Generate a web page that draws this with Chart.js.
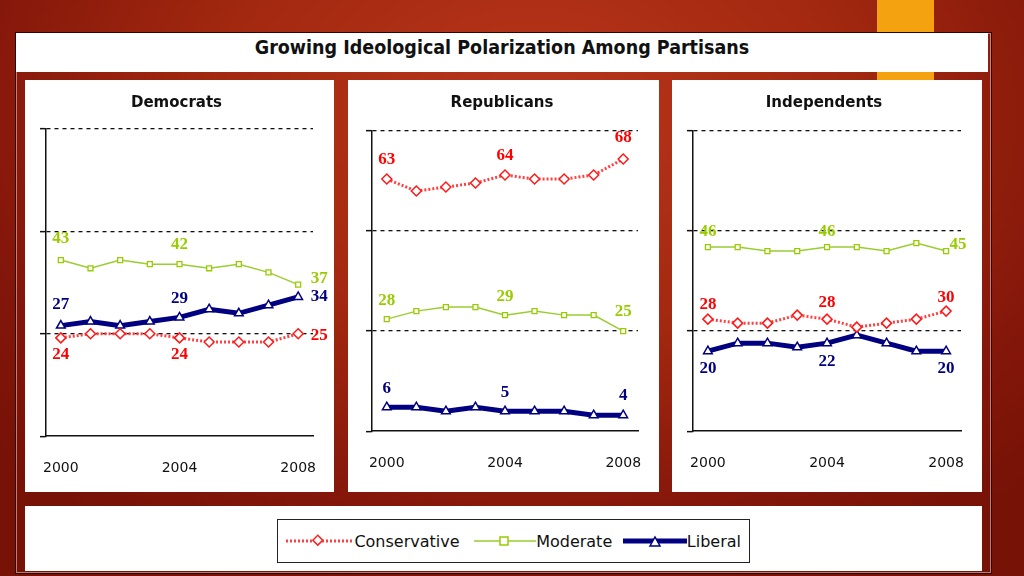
<!DOCTYPE html>
<html>
<head>
<meta charset="utf-8">
<script src="https://cdn.jsdelivr.net/npm/chart.js@4"></script>
<style>
  html, body { margin: 0; padding: 0; }
  body {
    width: 1024px; height: 576px; overflow: hidden; position: relative;
    background: radial-gradient(ellipse 70% 90% at 52% 20%, #b9361b 0%, #a2280f 45%, #83160a 80%, #761206 100%);
    font-family: "DejaVu Sans", sans-serif;
  }
  .orange { position: absolute; left: 877px; top: 0; width: 57px; height: 80px; background: #f4a20f; }
  .frame { position: absolute; left: 15px; top: 32px; width: 975px; height: 540px; border: 1px solid #2b0703; box-shadow: inset 0 0 0 1px rgba(255,210,200,0.55); }
  .titlebar {
    position: absolute; left: 16px; top: 33px; width: 972px; height: 39px; background: #fff;
    text-align: center; line-height: 29px; font-family: "DejaVu Sans Condensed", "DejaVu Sans", sans-serif;
    font-stretch: condensed; font-weight: bold; font-size: 19.5px; color: #111;
  }
  .panel { position: absolute; top: 80px; height: 412px; background: #fff; }
  .bottom { position: absolute; left: 25px; top: 506px; width: 957px; height: 65px; background: #fff; }
  .legend {
    position: absolute; left: 277px; top: 519px; width: 471px; height: 42px; border: 1.5px solid #222;
    display: flex; align-items: center; font-size: 16px; color: #111;
  }
  .legend span { margin-right: 8px; }
  .legend svg { display: block; }
</style>
</head>
<body>
<div class="orange"></div>
<div class="frame"></div>
<div class="titlebar">Growing Ideological Polarization Among Partisans</div>
<div class="panel" style="left:25px;width:309px"><canvas id="demChart"></canvas></div>
<div class="panel" style="left:348px;width:311px"><canvas id="repChart"></canvas></div>
<div class="panel" style="left:672px;width:310px"><canvas id="indChart"></canvas></div>
<div class="bottom"></div>
<div class="legend">
  <svg width="74" height="20" style="margin-left:6px"><line x1="2" y1="10" x2="70" y2="10" stroke="#ff4040" stroke-width="3" stroke-dasharray="2 2"/><rect x="31" y="5" width="7" height="7" transform="rotate(45 34.5 8.5) translate(0 1)" fill="#fff" stroke="#ff2020" stroke-width="1.5"/></svg>
  <span>Conservative</span>
  <svg width="70" height="20" style="margin-left:2px"><line x1="4" y1="10" x2="66" y2="10" stroke="#9acd32" stroke-width="1.5"/><rect x="30" y="6" width="8" height="8" fill="#fff" stroke="#99cc00" stroke-width="1.5"/></svg>
  <span>Moderate</span>
  <svg width="70" height="20"><line x1="3" y1="10" x2="67" y2="10" stroke="#000080" stroke-width="5"/><path d="M30 15 L35 6 L40 15 Z" fill="#fff" stroke="#000080" stroke-width="1.5"/></svg>
  <span>Liberal</span>
</div>
<script>
const years = ["2000", "2001", "2002", "2003", "2004", "2005", "2006", "2007", "2008"];
const shownYears = ["2000", "2004", "2008"];
const partyNames = ["Democrats", "Republicans", "Independents"];
const seriesNames = ["Conservative", "Moderate", "Liberal"];

const demConservative = [24, 25, 25, 25, 24, 23, 23, 23, 25];
const demModerate = [43, 41, 43, 42, 42, 41, 42, 40, 37];
const demLiberal = [27, 28, 27, 28, 29, 31, 30, 32, 34];

const repConservative = [63, 60, 61, 62, 64, 63, 63, 64, 68];
const repModerate = [28, 30, 31, 31, 29, 30, 29, 29, 25];
const repLiberal = [6, 6, 5, 6, 5, 5, 5, 4, 4];

const indConservative = [28, 27, 27, 29, 28, 26, 27, 28, 30];
const indModerate = [46, 46, 45, 45, 46, 46, 45, 47, 45];
const indLiberal = [20, 22, 22, 21, 22, 24, 22, 20, 20];

const labelledYears = ["2000", "2004", "2008"];

// value labels next to selected points
const pointLabels = {
    id: "pointLabels",
    afterDatasetsDraw(chart) {
        const ctx = chart.ctx;
        ctx.save();
        ctx.font = "bold 17px 'Liberation Serif', serif";
        ctx.textAlign = "center";
        ctx.textBaseline = "middle";
        chart.data.datasets.forEach((ds, di) => {
            const meta = chart.getDatasetMeta(di);
            ctx.fillStyle = ds.labelColor;
            ds.labelSpots.forEach((spot, k) => {
                const idx = years.indexOf(labelledYears[k]);
                const pt = meta.data[idx];
                ctx.fillText(String(ds.data[idx]), pt.x + spot[0], pt.y + spot[1]);
            });
        });
        ctx.restore();
    }
};

function makeDatasets(cons, mod, lib, spots) {
    return [
        {
            label: seriesNames[0], data: cons,
            borderColor: "#ff4040", borderWidth: 3, borderDash: [2, 2],
            pointStyle: "rectRot", pointRadius: 5, pointBackgroundColor: "#fff",
            pointBorderColor: "#ff1a1a", pointBorderWidth: 1.5,
            labelColor: "#ff0000", labelSpots: spots[0]
        },
        {
            label: seriesNames[1], data: mod,
            borderColor: "#9acd32", borderWidth: 1.5,
            pointStyle: "rect", pointRadius: 3.5, pointBackgroundColor: "#fff",
            pointBorderColor: "#99cc00", pointBorderWidth: 1.3,
            labelColor: "#99cc00", labelSpots: spots[1]
        },
        {
            label: seriesNames[2], data: lib,
            borderColor: "#000080", borderWidth: 5,
            pointStyle: "triangle", pointRadius: 5, pointBackgroundColor: "#fff",
            pointBorderColor: "#000080", pointBorderWidth: 1.5,
            labelColor: "#000080", labelSpots: spots[2]
        }
    ];
}

function createPanel(canvasId, title, datasets, pad, titleGap) {
    new Chart(document.getElementById(canvasId), {
        type: "line",
        data: { labels: years, datasets: datasets },
        plugins: [pointLabels],
        options: {
            responsive: true,
            maintainAspectRatio: false,
            animation: false,
            layout: { padding: pad },
            plugins: {
                legend: { display: false },
                tooltip: { enabled: false },
                title: {
                    display: true, text: title, color: "#111",
                    font: { family: "'DejaVu Sans', sans-serif", size: 15, weight: "bold" },
                    padding: { top: 14, bottom: titleGap }
                }
            },
            scales: {
                x: {
                    offset: true,
                    grid: {
                        display: true, drawOnChartArea: false, drawTicks: true,
                        tickLength: 24, tickColor: "rgba(0,0,0,0)"
                    },
                    border: { display: true, color: "#111", width: 1.5 },
                    ticks: {
                        autoSkip: false, maxRotation: 0, padding: 0, color: "#111",
                        font: { family: "'DejaVu Sans', sans-serif", size: 14 },
                        callback: function(value, index) {
                            const y = years[index];
                            return shownYears.includes(y) ? y : "";
                        }
                    }
                },
                y: {
                    min: 0, max: 75,
                    ticks: { display: false, stepSize: 25 },
                    grid: {
                        color: (c) => c.tick && c.tick.value === 0 ? "rgba(0,0,0,0)" : "#111",
                        lineWidth: 1.3, tickLength: 6, tickColor: "#111", tickWidth: 1.5
                    },
                    border: { display: true, color: "#111", width: 1.5, dash: [4, 4] }
                }
            }
        }
    });
}

const up = -19, down = 17;

createPanel("demChart", partyNames[0], makeDatasets(demConservative, demModerate, demLiberal, [
    [[0, down], [0, down], [21, 2]],
    [[0, -21], [0, -20], [21, -6]],
    [[0, -21], [0, -19], [21, 0]]
]), { left: 15, right: 21, top: 0, bottom: 15 }, 17);
createPanel("repChart", partyNames[1], makeDatasets(repConservative, repModerate, repLiberal, [
    [[0, up], [0, up], [0, -21]],
    [[0, up], [0, up], [0, -20]],
    [[0, up], [0, up], [0, -20]]
]), { left: 18, right: 21, top: 0, bottom: 20 }, 19);
createPanel("indChart", partyNames[2], makeDatasets(indConservative, indModerate, indLiberal, [
    [[0, -15], [0, -17], [0, -14]],
    [[0, -15], [0, -15], [12, -6]],
    [[0, down], [0, 18], [0, down]]
]), { left: 15, right: 21, top: 0, bottom: 20 }, 19);
</script>
</body>
</html>
